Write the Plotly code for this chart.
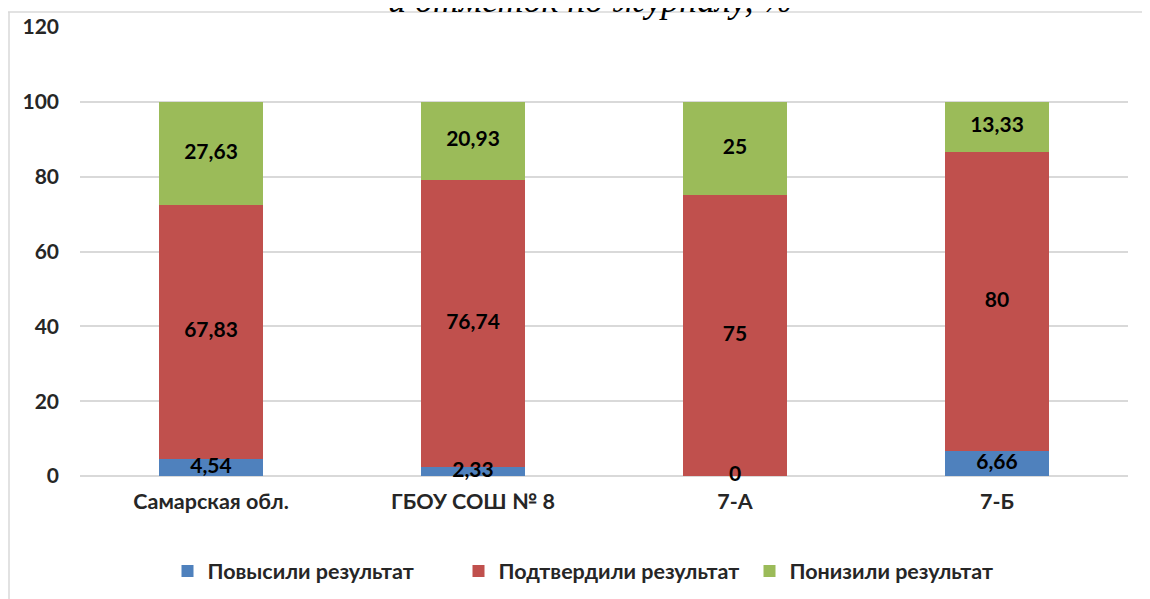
import plotly.graph_objects as go

categories = ["Самарская обл.", "ГБОУ СОШ № 8", "7-А", "7-Б"]
raised = [4.54, 2.33, 0, 6.66]
confirmed = [67.83, 76.74, 75, 80]
lowered = [27.63, 20.93, 25, 13.33]
label_raised = ["4,54", "2,33", "0", "6,66"]
label_confirmed = ["67,83", "76,74", "75", "80"]
label_lowered = ["27,63", "20,93", "25", "13,33"]
series_names = ["Повысили результат", "Подтвердили результат", "Понизили результат"]
colors = ["#4F81BD", "#C0504D", "#9BBB59"]
y_ticks = [0, 20, 40, 60, 80, 100, 120]

# the page body has an 8px margin, so the figure is drawn 8px right and down
W, H = 1150, 599
L, R, T, B = 72, 30, 19, 131
FONT = "Lato, Noto Sans, sans-serif"

fig = go.Figure()
series = [raised, confirmed, lowered]
labels = [label_raised, label_confirmed, label_lowered]
for name, vals, col in zip(series_names, series, colors):
    fig.add_trace(go.Bar(x=categories, y=vals, name=name, marker_color=col,
                         marker_line_width=0, hoverinfo="skip"))

# data labels at the middle of every segment
base = [0] * len(categories)
for vals, labs in zip(series, labels):
    mids = [b + v / 2 for b, v in zip(base, vals)]
    fig.add_trace(go.Scatter(x=categories, y=mids, text=labs, mode="text",
                             textfont=dict(family=FONT, size=21, color="#000000", weight="bold"),
                             showlegend=False, hoverinfo="skip", cliponaxis=False))
    base = [b + v for b, v in zip(base, vals)]

pw = W - L - R
ph = H - T - B
# frame of the text box
fig.add_shape(type="line", xref="paper", yref="paper",
              x0=(0 - L) / pw, x1=(W - L) / pw, y0=1 + (T - 4) / ph, y1=1 + (T - 4) / ph,
              line=dict(color="#D9D9D9", width=1.5))
fig.add_shape(type="line", xref="paper", yref="paper",
              x0=(1 - L) / pw, x1=(1 - L) / pw, y0=1 + (T - 4) / ph, y1=-(B + 5) / ph,
              line=dict(color="#D9D9D9", width=1.5))

# title of the chart, its upper part is outside the picture
fig.add_annotation(text="и отметок по журналу, %", xref="paper", yref="paper",
                   x=(582 - L) / pw, y=1 + (T - 14) / ph, xanchor="center", yanchor="bottom",
                   showarrow=False,
                   font=dict(family="Liberation Serif", size=36, color="#000000", style="italic"))

fig.update_layout(
    width=W, height=H, barmode="stack", bargap=0.6,
    margin=dict(l=L, r=R, t=T, b=B, autoexpand=False),
    plot_bgcolor="white", paper_bgcolor="white",
    showlegend=True,
    legend=dict(orientation="h", traceorder="normal", x=596 / W, xref="container",
                xanchor="center", y=1 - 563 / H, yref="container",
                yanchor="middle", font=dict(family=FONT, size=21.5, color="#262626", weight="bold"),
                itemclick=False, itemwidth=30, entrywidth=246),
    xaxis=dict(tickfont=dict(family=FONT, size=21.5, color="#262626", weight="bold"), showline=False,
               ticks="", ticklabelstandoff=10, automargin=False),
    yaxis=dict(range=[0, 120], tickvals=y_ticks, gridcolor="#D9D9D9", gridwidth=1.5,
               zeroline=True, zerolinecolor="#D9D9D9", zerolinewidth=1.5, automargin=False,
               tickfont=dict(family=FONT, size=21, color="#262626", weight="bold"), ticklabelstandoff=20),
)

fig.write_html("out.html")
